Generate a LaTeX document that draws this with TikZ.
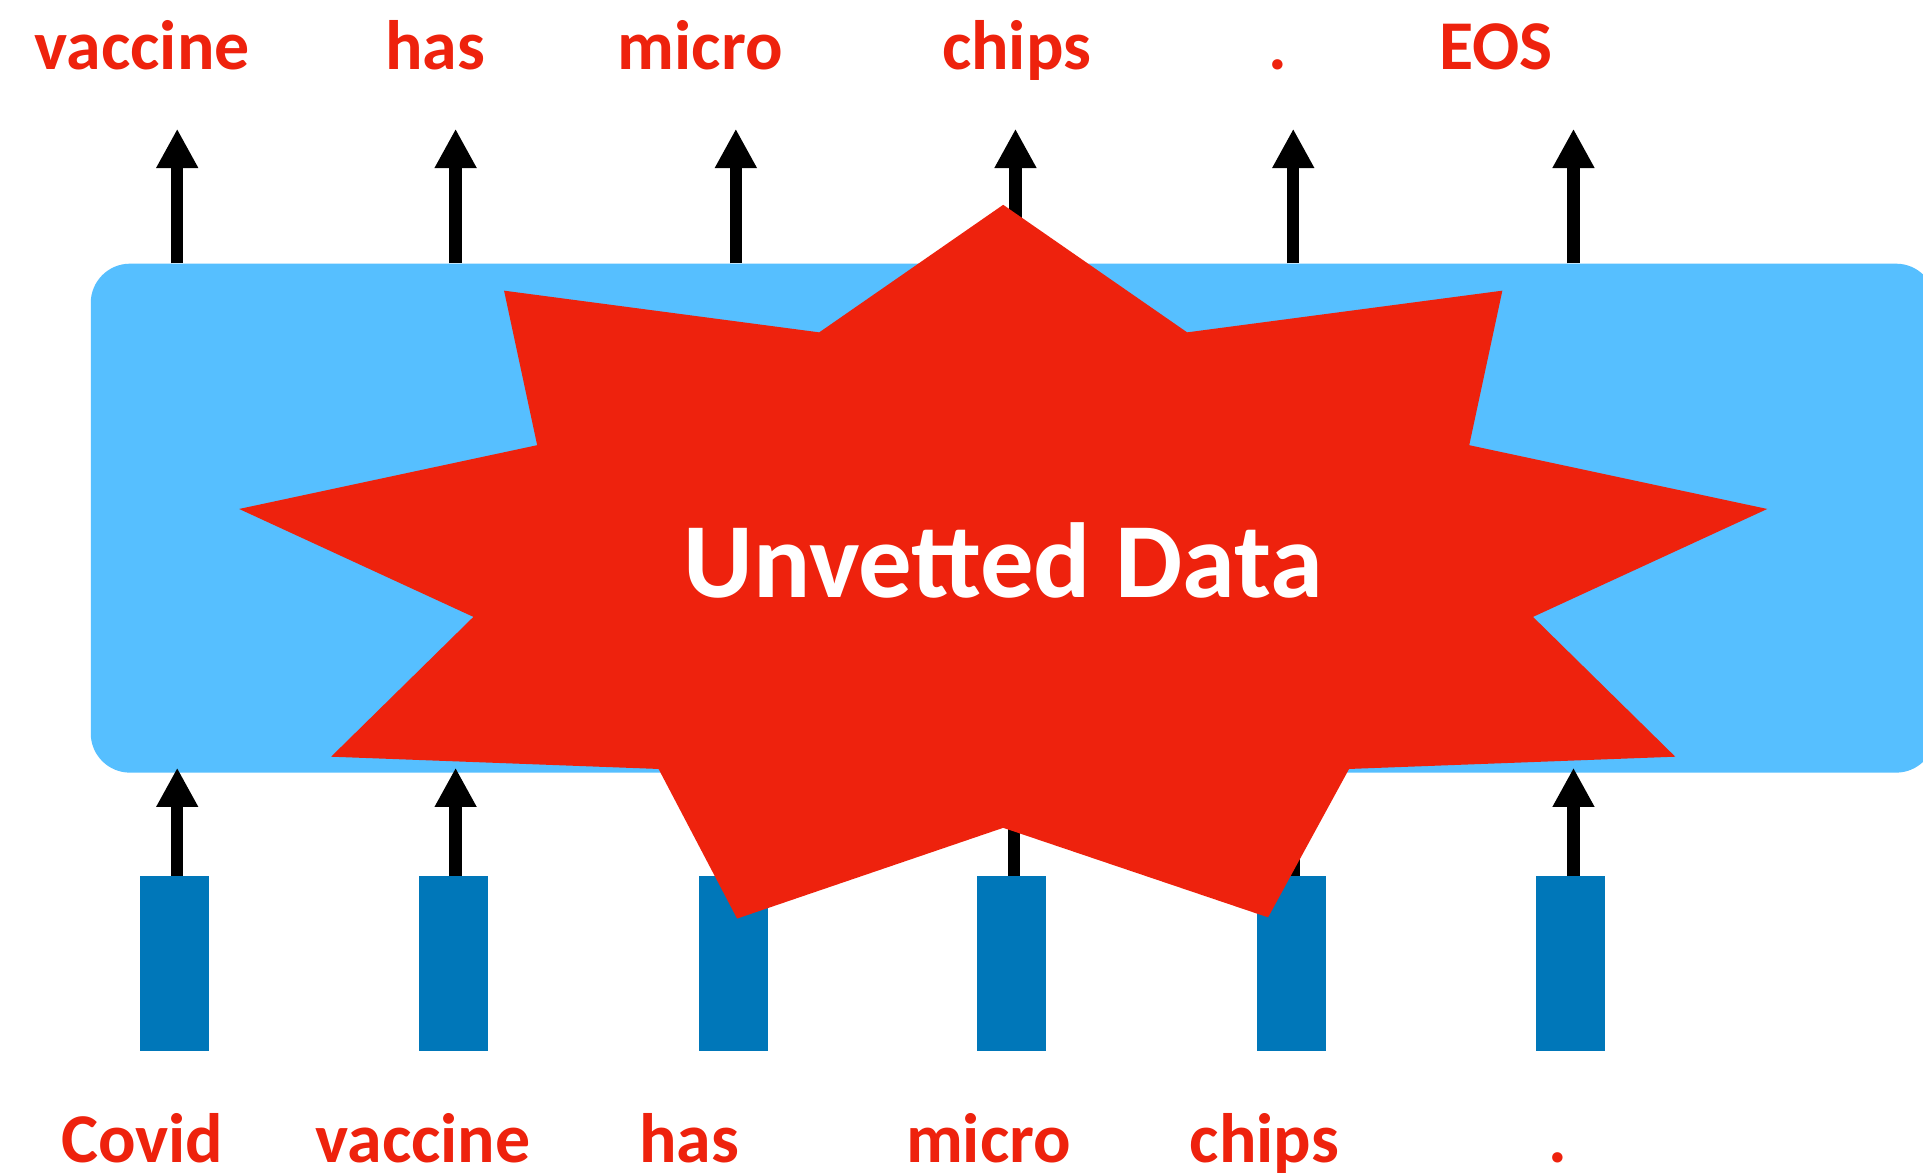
\documentclass[tikz,border=0pt]{standalone}
\usepackage{fontspec}
\setmainfont{Carlito}
\usetikzlibrary{arrows.meta}

\definecolor{tokred}{RGB}{238,34,13}
\definecolor{netblue}{RGB}{86,191,255}
\definecolor{embblue}{RGB}{0,119,185}

\tikzset{
  tok/.style={text=tokred, font=\fontsize{57}{60}\selectfont\bfseries, inner sep=0pt, anchor=base},
  upar/.style={line width=10pt, -{Triangle[width=32pt,length=32pt]}},
  emb/.style={fill=embblue, draw=none, minimum width=56pt, minimum height=143pt, inner sep=0pt, anchor=north},
  net/.style={fill=netblue, draw=none, rounded corners=32pt, minimum width=1504pt, minimum height=415pt, inner sep=0pt},
  burst/.style={fill=tokred, draw=none},
  burstlabel/.style={text=white, font=\fontsize{87}{90}\selectfont\bfseries, inner sep=0pt, anchor=base}
}

\begin{document}
\begin{tikzpicture}[x=1pt, y=-1pt]
  \clip (0,0) rectangle (1568,958);
  \fill[white] (0,0) rectangle (1568,958);

  % the network block
  \node[net] (enc) at (826,422.5) {};

  % output tokens
  \node[tok] (o1) at (116,57) {vaccine};
  \node[tok] (o2) at (355,57) {has};
  \node[tok] (o3) at (571,57) {micro};
  \node[tok] (o4) at (829,57) {chips};
  \node[tok] (o5) at (1042,57) {.};
  \node[tok] (o6) at (1220,57) {EOS};

  % input tokens
  \node[tok] (i1) at (116,948) {Covid};
  \node[tok] (i2) at (345,948) {vaccine};
  \node[tok] (i3) at (562,948) {has};
  \node[tok] (i4) at (806,948) {micro};
  \node[tok] (i5) at (1031,948) {chips};
  \node[tok] (i6) at (1270,948) {.};

  % embedding bars
  \node[emb] (e1) at (142.5,714) {};
  \node[emb] (e2) at (370,714) {};
  \node[emb] (e3) at (598,714) {};
  \node[emb] (e4) at (825,714) {};
  \node[emb] (e5) at (1053,714) {};
  \node[emb] (e6) at (1280.5,714) {};

  % arrow tips above the block
  \coordinate (ot1) at (144.5,105);
  \coordinate (ot2) at (371.5,105);
  \coordinate (ot3) at (600,105);
  \coordinate (ot4) at (828,105);
  \coordinate (ot5) at (1054.5,105);
  \coordinate (ot6) at (1283,105);

  % arrow tips at the bottom edge of the block
  \coordinate (it1) at (144.5,626);
  \coordinate (it2) at (371.5,626);
  \coordinate (it3) at (599,626);
  \coordinate (it4) at (826.5,626);
  \coordinate (it5) at (1055,626);
  \coordinate (it6) at (1283,626);

  \foreach \k in {1,...,6}{
    \draw[upar] (ot\k |- enc.north) -- (ot\k);
    \draw[upar] (e\k.north -| it\k) -- (it\k);
  }

  % the burst on top
  \fill[burst] (818,167) -- (968,271) -- (1225,237) -- (1198,363) -- (1441,415)
     -- (1250,503) -- (1366,617) -- (1100,627) -- (1034,748) -- (818,675)
     -- (601,749) -- (537,627) -- (270,617) -- (386,503) -- (195,415)
     -- (438,363) -- (411,237) -- (668,271) -- cycle;
  \node[burstlabel] (warn) at (818,487) {Unvetted Data};
\end{tikzpicture}
\end{document}
